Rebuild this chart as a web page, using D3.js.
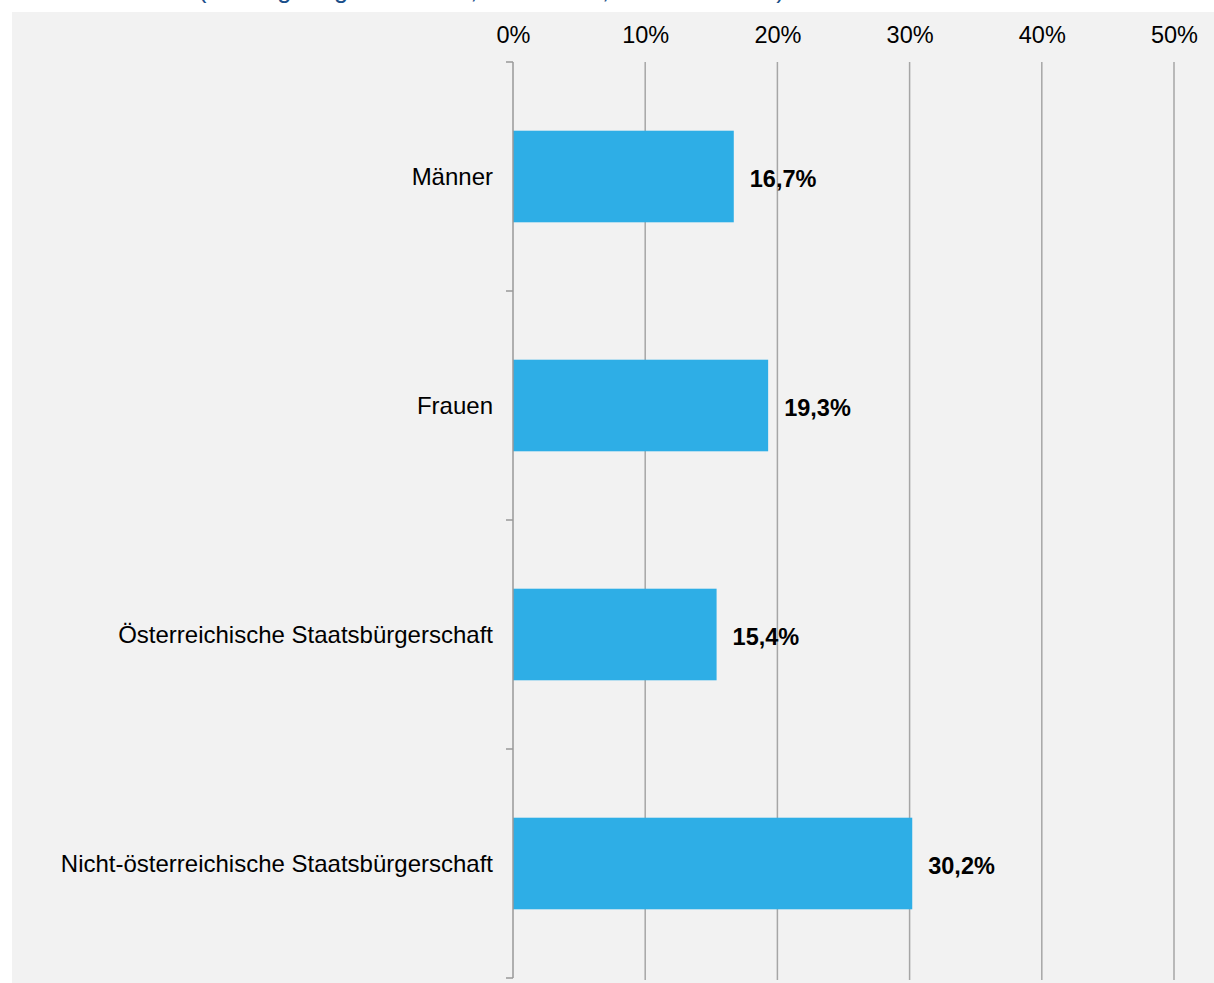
<!DOCTYPE html>
<html>
<head>
<meta charset="utf-8">
<script src="https://cdn.jsdelivr.net/npm/d3@7"></script>
<style>
  html, body { margin: 0; padding: 0; background: #ffffff; }
  svg { display: block; font-family: "Liberation Sans", Arial, sans-serif; }
</style>
</head>
<body>
<svg id="chart" width="1214" height="983"></svg>
<script>
// Categories and shares (percent)
const categories = [
  "Männer",
  "Frauen",
  "Österreichische Staatsbürgerschaft",
  "Nicht-österreichische Staatsbürgerschaft"
];
const values = [16.7, 19.3, 15.4, 30.2];
const tickValues = [0, 10, 20, 30, 40, 50];
const subtitle = "(Anteil gering Entlohnter, Österreich, 2018 bis 2021)";

const svg = d3.select("#chart");
const W = 1214, H = 983;

// Panel background
svg.append("rect")
  .attr("x", 12).attr("y", 12)
  .attr("width", W - 12).attr("height", H - 12)
  .attr("fill", "#f2f2f2");

// Subtitle line above the panel (runs off the top edge)
svg.append("text")
  .attr("x", 198).attr("y", -2)
  .attr("fill", "#1b4f8a")
  .attr("font-size", 25.5)
  .text(subtitle);

const x = d3.scaleLinear().domain([0, 50]).range([513, 1174]);
const y = d3.scaleBand().domain(categories).range([62, 978]).paddingInner(0.6).paddingOuter(0.3);

// Vertical gridlines
svg.append("g")
  .selectAll("line")
  .data(tickValues.slice(1))
  .join("line")
  .attr("x1", d => x(d)).attr("x2", d => x(d))
  .attr("y1", 62).attr("y2", 980)
  .attr("stroke", "#a6a6a6")
  .attr("stroke-width", 1.5);

// Top tick labels
const xAxis = d3.axisTop(x).tickValues(tickValues).tickSize(0).tickPadding(0)
  .tickFormat(d => d + "%");
const gx = svg.append("g").attr("transform", "translate(0,43)").call(xAxis);
gx.select(".domain").remove();
gx.selectAll("text")
  .attr("font-size", 23.5)
  .attr("font-family", "Liberation Sans, Arial, sans-serif")
  .attr("fill", "#000");

// Bars
svg.append("g")
  .selectAll("rect")
  .data(categories)
  .join("rect")
  .attr("x", x(0))
  .attr("y", d => y(d))
  .attr("width", (d, i) => x(values[i]) - x(0))
  .attr("height", y.bandwidth())
  .attr("fill", "#2eaee6");

// Category axis on the left with band-boundary ticks
const bandEdges = d3.range(categories.length + 1).map(i => 62 + i * (978 - 62) / categories.length);
svg.append("line")
  .attr("x1", x(0)).attr("x2", x(0))
  .attr("y1", 62).attr("y2", 978)
  .attr("stroke", "#999999").attr("stroke-width", 1.5);
svg.append("g")
  .selectAll("line")
  .data(bandEdges)
  .join("line")
  .attr("x1", x(0) - 7).attr("x2", x(0))
  .attr("y1", d => d).attr("y2", d => d)
  .attr("stroke", "#999999").attr("stroke-width", 1.5);

// Category labels
svg.append("g")
  .selectAll("text")
  .data(categories)
  .join("text")
  .attr("x", 493)
  .attr("y", d => y(d) + y.bandwidth() / 2)
  .attr("dy", "0.35em")
  .attr("text-anchor", "end")
  .attr("font-size", 24)
  .attr("fill", "#000")
  .text(d => d);

// Value labels
svg.append("g")
  .selectAll("text")
  .data(categories)
  .join("text")
  .attr("x", (d, i) => x(values[i]) + 16)
  .attr("y", d => y(d) + y.bandwidth() / 2 + 2)
  .attr("dy", "0.35em")
  .attr("font-size", 23.5)
  .attr("font-weight", "bold")
  .attr("fill", "#000")
  .text((d, i) => values[i].toFixed(1).replace(".", ",") + "%");
</script>
</body>
</html>
